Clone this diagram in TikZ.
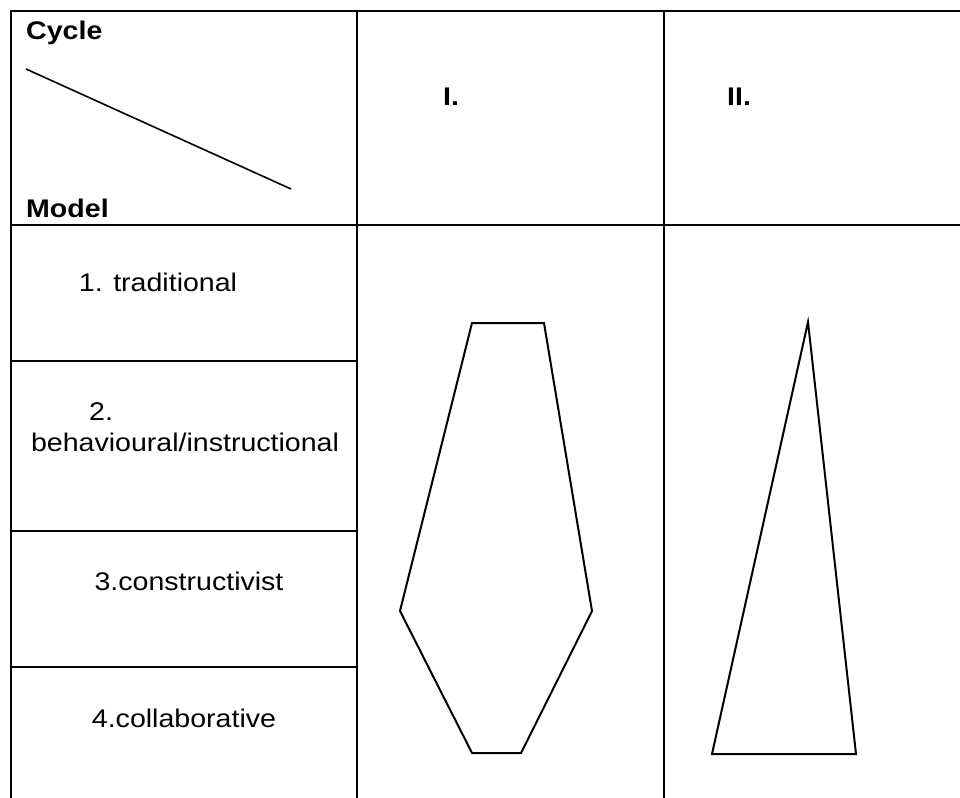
\documentclass[tikz,border=0pt]{standalone}
\usepackage{fontspec}
\setmainfont[FakeStretch=1.12]{Liberation Sans}
\begin{document}
\begin{tikzpicture}[x=1pt,y=-1pt,
  grid/.style={line width=2.4pt,line cap=rect},
  shapeline/.style={line width=2pt,line join=miter},
  hdr/.style={font=\fontsize{25.5}{30}\selectfont\bfseries,inner sep=0pt},
  txt/.style={font=\fontsize{25.5}{30}\selectfont,inner sep=0pt}]
\useasboundingbox (0,0) rectangle (960,797);
% table grid
\draw[grid] (960,11) -- (11,11) -- (11,800);
\draw[grid] (11,225) -- (960,225);
\draw[grid] (357,11) -- (357,800);
\draw[grid] (664,11) -- (664,800);
\draw[grid] (11,361) -- (357,361);
\draw[grid] (11,531) -- (357,531);
\draw[grid] (11,667) -- (357,667);
% header cell
\coordinate (d1) at (26,69);
\coordinate (d2) at (291,189);
\draw[line width=1.6pt] (d1) -- (d2);
\node[hdr,anchor=base west] (cycle) at (26,39.5) {Cycle};
\node[hdr,anchor=base west] (model) at (26,217) {Model};
\node[hdr,anchor=base west] (c1) at (443,106) {I.};
\node[hdr,anchor=base west] (c2) at (727,106) {II.};
% row labels
\node[txt,anchor=base] (m1) at (158,291) {1. traditional};
\node[txt,anchor=base west] (m2a) at (89,420) {2.};
\node[txt,anchor=base] (m2b) at (185,451) {behavioural/instructional};
\node[txt,anchor=base] (m3) at (189,590) {3.constructivist};
\node[txt,anchor=base] (m4) at (184,727) {4.collaborative};
% shapes
\draw[shapeline] (472,323) -- (544,323) -- (592,611) -- (521,753) -- (472,753) -- (400,611) -- cycle;
\draw[shapeline] (808,322) -- (856,754) -- (712,754) -- cycle;
\end{tikzpicture}
\end{document}
